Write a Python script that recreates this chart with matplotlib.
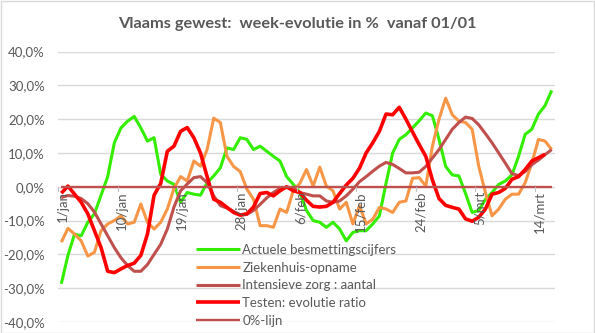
import numpy as np
import matplotlib
matplotlib.use("Agg")
import matplotlib.pyplot as plt
from matplotlib.patches import Rectangle

plt.rcParams['font.family'] = ['Lato', 'DejaVu Sans']

title = "Vlaams gewest:  week-evolutie in %  vanaf 01/01"
days = np.arange(75)  # 1/jan .. 16/mrt
tick_days = [0, 9, 18, 27, 36, 45, 54, 63, 72]
tick_labels = ["1/jan", "10/jan", "19/jan", "28/jan", "6/feb", "15/feb", "24/feb", "5/mrt", "14/mrt"]

besmettingen = [-28.7, -20.3, -14.0, -14.5, -10.5, -8.0, -2.5, 3.0, 13.0, 17.4,
                19.4, 20.8, 17.4, 13.5, 14.5, 3.7, 1.7, 0.7, -4.6, -1.7,
                -2.2, -2.5, 1.2, 3.2, 5.6, 11.5, 11.0, 14.5, 14.0, 11.0,
                12.0, 10.5, 9.0, 7.6, 3.0, 0.7, -1.7, -7.0, -10.0, -10.5,
                -12.0, -10.5, -12.5, -16.0, -13.5, -13.0, -13.0, -11.0, -8.6, 1.0,
                10.0, 14.0, 15.4, 17.4, 19.5, 21.8, 21.0, 14.0, 6.0, 3.5,
                3.2, -2.0, -7.6, -7.0, -3.7, -1.7, 0.7, 1.7, 3.5, 9.0,
                15.5, 17.0, 21.5, 24.0, 28.5]
ziekenhuis = [-16.4, -12.3, -14.0, -16.0, -20.5, -19.4, -13.0, -11.0, -10.0, -8.6,
              -11.0, -10.5, -5.1, -10.5, -12.5, -10.5, -6.6, -0.5, 3.0, 1.7,
              7.6, 6.1, 11.0, 20.3, 19.0, 9.0, 6.0, 4.5, -0.7, -3.7,
              -11.5, -11.5, -12.0, -6.6, -7.6, -1.2, 1.0, 5.1, 0.2, 5.8,
              0.2, -1.2, -6.6, -4.6, -11.0, -5.6, -11.0, -9.6, -6.1, -6.6,
              -7.6, -4.6, -4.2, 2.5, 2.7, 0.2, 12.0, 20.0, 26.2, 21.3,
              19.4, 19.0, 17.0, 6.0, -1.7, -8.6, -6.6, -3.7, -2.2, -2.2,
              1.2, 7.0, 14.0, 13.5, 11.0]
intensieve = [-3.2, -2.6, -2.8, -3.5, -5.0, -7.5, -11.0, -14.5, -18.0, -21.0,
              -23.3, -25.0, -25.0, -23.0, -20.0, -17.0, -12.5, -6.0, -1.2, 0.8,
              2.7, 3.0, 1.2, -2.7, -5.6, -6.3, -7.3, -8.3, -8.2, -7.0,
              -5.2, -3.3, -1.7, -0.5, -0.2, -0.5, -1.7, -2.2, -2.7, -2.7,
              -4.2, -4.6, -4.2, -2.7, -0.7, 1.5, 3.0, 4.6, 6.1, 7.2,
              6.6, 5.4, 4.1, 4.1, 4.3, 6.0, 8.5, 11.0, 14.0, 17.0,
              19.0, 20.6, 20.2, 18.3, 15.7, 13.0, 10.0, 7.0, 3.9, 3.3,
              4.5, 6.5, 7.9, 9.5, 11.0]
testen = [-1.9, 0.2, -2.2, -4.6, -8.0, -13.0, -18.0, -25.0, -25.4, -24.3,
          -23.3, -22.6, -20.3, -14.0, -2.5, 1.0, 10.5, 12.0, 16.4, 17.5,
          14.5, 10.0, 3.0, -3.7, -4.6, -6.1, -7.6, -8.4, -8.0, -6.0,
          -2.0, -1.7, -2.7, -1.2, 0.0, -1.2, -1.7, -4.0, -5.8, -6.0,
          -5.8, -4.6, -2.0, 0.5, 2.5, 5.5, 10.0, 13.0, 16.4, 21.5,
          21.3, 23.5, 20.0, 16.2, 12.5, 9.0, 2.0, -3.5, -5.5, -6.1,
          -6.6, -9.5, -10.2, -9.0, -6.6, -2.2, -1.7, -0.5, 2.2, 3.0,
          5.1, 7.6, 8.6, 9.6, np.nan]
nul_lijn = [0.0] * 75

series = [
    ("Actuele besmettingscijfers", besmettingen, "#33EE00", 2.2),
    ("Ziekenhuis-opname", ziekenhuis, "#F79646", 2.2),
    ("Intensieve zorg : aantal", intensieve, "#C0504D", 2.2),
    ("Testen: evolutie ratio", testen, "#FF0000", 2.6),
    ("0%-lijn", nul_lijn, "#C0504D", 1.7),
]

W, H = 595, 333
fig = plt.figure(figsize=(W / 100, H / 100), dpi=100)
fig.patch.set_facecolor("white")
# chart border
fig.add_artist(Rectangle((0.5 / W, 0.5 / H), 1 - 1.5 / W, 1 - 1.5 / H, transform=fig.transFigure,
                         fill=False, edgecolor="#D9D9D9", linewidth=1.0))

left, right, top, bottom = 58, 555, 51.5, 322
ax = fig.add_axes([left / W, 1 - bottom / H, (right - left) / W, (bottom - top) / H])
ax.set_xlim(-0.5, 74.5)
ax.set_ylim(-40, 40)
yt = np.arange(-40, 41, 10)
ax.set_yticks(yt)
ax.set_yticklabels([f"{v:.1f}%".replace(".", ",") for v in yt])
ax.grid(axis="y", color="#D9D9D9", linewidth=1.0)
ax.set_axisbelow(True)
for s in ax.spines.values():
    s.set_visible(False)
ax.tick_params(axis="y", length=0, pad=9.4, labelsize=9.5, labelcolor="#595959")
ax.set_xticks([])

for label, vals, col, lw in series:
    ax.plot(days, vals, color=col, linewidth=lw, label=label, solid_capstyle="butt")

# category tick marks on the zero axis
for d in tick_days:
    ax.plot([d - 0.5, d - 0.5], [0, -1.2], color="#BFBFBF", linewidth=0.8)
for d, lab in zip(tick_days, tick_labels):
    ax.text(d + 0.2, -1.3, lab, rotation=90, ha="center", va="top", fontsize=9.5, color="#595959",
            rotation_mode="default")

leg = ax.legend(loc="upper left", bbox_to_anchor=(196 / W, 1 - 244 / H), bbox_transform=fig.transFigure,
                frameon=False, fontsize=9.5, handlelength=3.3, handletextpad=0.2,
                labelspacing=0.43, borderpad=0, borderaxespad=0)
for t in leg.get_texts():
    t.set_color("#595959")

fig.text(0.5, 1 - 24 / H, title, ha="center", va="center", fontsize=11.8, fontweight="bold",
         color="#595959")

fig.savefig("out.png", dpi=100)
